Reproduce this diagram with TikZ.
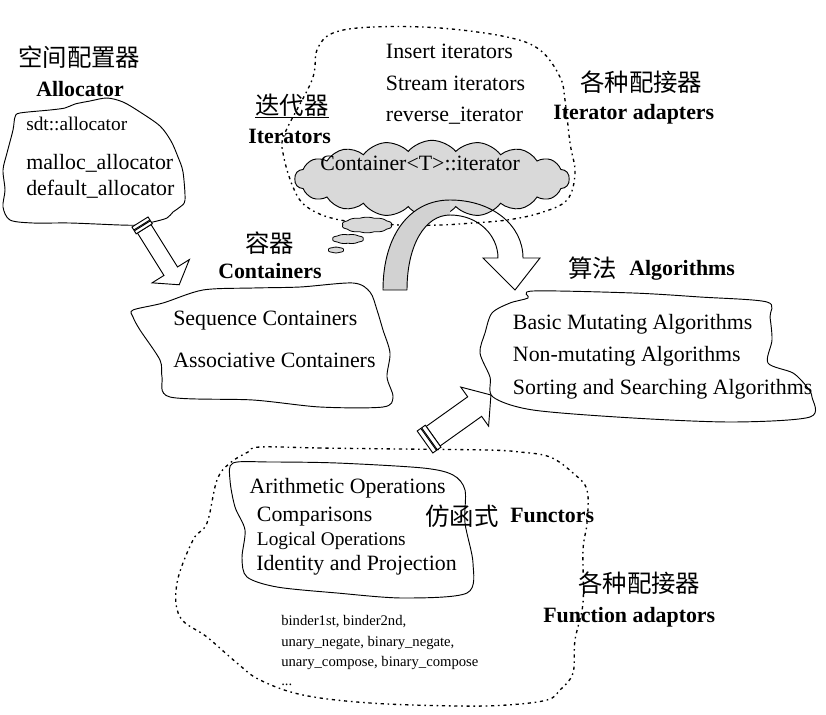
\documentclass[tikz,border=0pt]{standalone}
\usepackage{fontspec}
\setmainfont{Liberation Serif}
\newfontfamily\cjk{Noto Sans CJK SC}
\usetikzlibrary{shapes.symbols,calc}
\begin{document}
\begin{tikzpicture}[x=0.75pt,y=-0.75pt,
  t/.style={inner sep=0pt, anchor=base west, font=\fontsize{16.4}{19}\selectfont},
  tb/.style={t, font=\fontsize{16.4}{19}\selectfont\bfseries},
  ts/.style={t, font=\fontsize{14.5}{17}\selectfont},
  tt/.style={t, font=\fontsize{11}{13}\selectfont},
  tc/.style={t, font=\fontsize{18.3}{20}\selectfont\cjk},
  blob/.style={draw, line width=0.7pt, fill=white},
  dots/.style={draw, line width=1pt, dash pattern=on 1.2pt off 2.8pt on 2.4pt off 2.8pt},
  blockarrow/.style={draw, line width=0.7pt, fill=white, line join=miter},
  puff/.style={cloud, draw, fill=gray!30, line width=0.7pt, inner sep=0pt},
  smallpuff/.style={draw, fill=gray!30, line width=0.6pt},
]
\path[use as bounding box] (0,0) rectangle (826,715);

% ---------- dotted outlines ----------
\draw[dots] plot[smooth cycle, tension=0.6] coordinates {(333,33) (373,27) (440,28) (507,37) (540,50) (560,77) (565,100) (570,143) (575,173) (567,200) (540,213) (507,220) (473,223) (440,225) (400,225) (340,220) (307,207) (293,187) (283,153) (285,133) (312,80) (317,50)};
\draw[dots] plot[smooth cycle, tension=0.6] coordinates {(260,447) (320,448) (400,449) (487,450) (520,452) (550,457) (573,473) (587,490) (587,523) (583,550) (583,603) (575,640) (573,673) (560,690) (547,700) (507,705) (457,706) (370,703) (303,695) (260,680) (237,663) (207,637) (180,617) (177,583) (193,540) (207,523) (217,480) (230,463) (248,452)};

% ---------- iterator cloud ----------
\node[puff, cloud puffs=18, cloud puff arc=100, aspect=3.6, minimum width=206pt, minimum height=58pt] (itcloud) at (432,179) {};
\draw[smallpuff] plot[domain=0:360, samples=97, variable=\t] ({367+24*cos(\t)*(1+0.05*abs(sin(5*\t)))}, {225+7*sin(\t)*(1+0.12*abs(sin(5*\t)))}) -- cycle;
\draw[smallpuff] plot[domain=0:360, samples=97, variable=\t] ({348+15*cos(\t)*(1+0.05*abs(sin(4*\t)))}, {239+4.2*sin(\t)*(1+0.12*abs(sin(4*\t)))}) -- cycle;
\draw[smallpuff] plot[domain=0:360, samples=73, variable=\t] ({336+7.5*cos(\t)*(1+0.05*abs(sin(3*\t)))}, {250+2.6*sin(\t)*(1+0.12*abs(sin(3*\t)))}) -- cycle;

% ---------- functors -> algorithms arrow ----------
\begin{scope}[shift={(425,442)}, rotate=35.5]
  \coordinate (a3tail) at (0,0);
  \coordinate (a3tip) at (81,0);
  \draw[blockarrow] (10,-12) -- (61,-12) -- (61,-24) -- (a3tip) -- (61,24) -- (61,12) -- (10,12) -- cycle;
  \draw[blockarrow] (0,-13.5) rectangle (4.5,13.5);
  \draw[blockarrow] (5.5,-13.5) rectangle (10,13.5);
\end{scope}

% ---------- blobs ----------
\draw[blob] plot[smooth cycle, tension=0.5] coordinates {(15,117) (20,113) (50,110) (65,108) (75,104) (90,101) (107,98) (123,102) (140,112) (160,126) (171,141) (178,157) (183,172) (185,200) (180,207) (173,212) (167,218) (153,222) (138,225) (120,225) (70,223) (33,223) (10,220) (3,207) (5,190) (3,170) (7,153) (13,130)};
\draw[blob] plot[smooth cycle, tension=0.5] coordinates {(133,310) (163,303) (203,290) (253,288) (300,287) (353,283) (370,292) (377,310) (383,330) (390,353) (387,377) (393,397) (383,407) (320,407) (253,400) (170,397) (162,377) (160,360) (140,330) (133,317)};
\draw[blob] plot[smooth cycle, tension=0.5] coordinates {(533,291) (633,293) (700,297) (767,302) (770,317) (772,340) (768,363) (793,373) (807,387) (812,397) (810,417) (733,422) (633,418) (533,410) (493,397) (490,377) (480,353) (485,333) (492,313) (510,303) (528,298)};
\draw[blob] plot[smooth cycle, tension=0.5] coordinates {(233,463) (270,462) (337,463) (423,468) (453,475) (465,490) (465,523) (473,563) (467,593) (403,598) (337,593) (277,587) (247,577) (242,558) (245,530) (235,507) (230,480)};

% ---------- allocator -> containers arrow ----------
\begin{scope}[shift={(140,222)}, rotate=-58]
  \coordinate (a1tail) at (0,0);
  \coordinate (a1tip) at (74,0);
  \draw[blockarrow] (8,-8) -- (58,-8) -- (58,-22) -- (a1tip) -- (58,22) -- (58,8) -- (8,8) -- cycle;
  \draw[blockarrow] (0,-9.5) rectangle (3.5,9.5);
  \draw[blockarrow] (4.5,-9.5) rectangle (8,9.5);
\end{scope}

% ---------- iterators -> algorithms curved arrow ----------
\coordinate (a2l) at (383,290);
\coordinate (a2top) at (450,200);
\coordinate (a2tip) at (515,290);
\fill[gray!35] (a2l) .. controls (383,235) and (410,200) .. (a2top) -- (450,215) .. controls (425,215) and (407,245) .. (407,290) -- cycle;
\draw[line width=0.7pt, line join=miter] (407,290) -- (a2l) .. controls (383,235) and (410,200) .. (a2top) .. controls (492,200) and (523,225) .. (523,258) -- (540,258) -- (a2tip) -- (483,258) -- (498,258) .. controls (498,235) and (478,215) .. (450,215) .. controls (425,215) and (407,245) .. (407,290);

% ---------- texts ----------
\node[tc] (alcn) at (18,66) {空间配置器};
\node[tb] (alen) at (36,96.7) {Allocator};
\node[ts] (al1) at (26,130) {sdt::allocator};
\node[t] (al2) at (26,169) {malloc\_allocator};
\node[t] (al3) at (26,195) {default\_allocator};

\node[tc] (itcn) at (255,114) {迭代器};
\draw[line width=0.7pt] ($(itcn.base west)+(0,3.3)$) -- ($(itcn.base east)+(0,3.3)$);
\node[tb] (iten) at (248,143) {Iterators};
\node[t] (it1) at (385.7,58.3) {Insert iterators};
\node[t] (it2) at (385.7,90) {Stream iterators};
\node[t] (it3) at (385.7,121.7) {reverse\_iterator};
\node[t] (it4) at (320,170.7) {Container<T>::iterator};
\node[tc] (iacn) at (580,91) {各种配接器};
\node[tb] (iaen) at (553,119) {Iterator adapters};

\node[tc] (cocn) at (245,252) {容器};
\node[tb] (coen) at (218,278) {Containers};
\node[t] (co1) at (173,325) {Sequence Containers};
\node[t] (co2) at (173,367) {Associative Containers};

\node[tc] (agcn) at (568,277) {算法};
\node[tb] (agen) at (629,275) {Algorithms};
\node[t] (ag1) at (512.7,329.3) {Basic Mutating Algorithms};
\node[t] (ag2) at (512.7,361.7) {Non-mutating Algorithms};
\node[t] (ag3) at (512.7,394) {Sorting and Searching Algorithms};

\node[t] (fu1) at (249.3,493.3) {Arithmetic Operations};
\node[t] (fu2) at (256.7,521.7) {Comparisons};
\node[ts] (fu3) at (256.7,545) {Logical Operations};
\node[t] (fu4) at (256,570) {Identity and Projection};
\node[tc] (fucn) at (425,525) {仿函式};
\node[tb] (fuen) at (510,522) {Functors};

\node[tt] (fa1) at (281,625) {binder1st, binder2nd,};
\node[tt] (fa2) at (281,646) {unary\_negate, binary\_negate,};
\node[tt] (fa3) at (281,666) {unary\_compose, binary\_compose};
\node[tt] (fa4) at (281,685) {...};
\node[tc] (facn) at (578,592) {各种配接器};
\node[tb] (faen) at (543,622) {Function adaptors};
\end{tikzpicture}
\end{document}
